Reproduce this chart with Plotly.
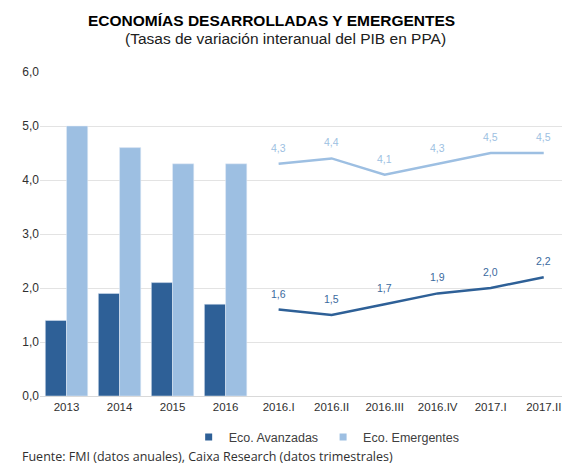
import plotly.graph_objects as go

years = ['2013', '2014', '2015', '2016']
quarters = ['2016.I', '2016.II', '2016.III', '2016.IV', '2017.I', '2017.II']
avanzadas_anual = [1.4, 1.9, 2.1, 1.7]
emergentes_anual = [5.0, 4.6, 4.3, 4.3]
avanzadas_trim = [1.6, 1.5, 1.7, 1.9, 2.0, 2.2]
emergentes_trim = [4.3, 4.4, 4.1, 4.3, 4.5, 4.5]

dark = '#2E6097'
light = '#9DBFE2'
font = 'Liberation Sans, Arial, sans-serif'

fig = go.Figure()
fig.add_trace(go.Bar(x=years, y=avanzadas_anual, marker_color=dark, showlegend=False))
fig.add_trace(go.Bar(x=years, y=emergentes_anual, marker_color=light, showlegend=False))
fig.add_trace(go.Scatter(x=quarters, y=avanzadas_trim, mode='lines', showlegend=False,
                         line=dict(color=dark, width=2.5)))
fig.add_trace(go.Scatter(x=quarters, y=emergentes_trim, mode='lines', showlegend=False,
                         line=dict(color=light, width=2.5)))
# legend entries: small squares like the original
for name, col in [('Eco. Avanzadas', dark), ('Eco. Emergentes', light)]:
    fig.add_trace(go.Scatter(x=[None], y=[None], mode='markers', name=name,
                             marker=dict(symbol='square', size=7, color=col)))

annots = []
for vals, col in [(avanzadas_trim, '#3A6A9E'), (emergentes_trim, '#9DBFE2')]:
    for q, v in zip(quarters, vals):
        annots.append(dict(x=q, y=v, text=f'{v:.1f}'.replace('.', ','), showarrow=False,
                           yshift=16, font=dict(size=10.5, color=col)))

annots += [
    dict(text='<b>ECONOMÍAS DESARROLLADAS Y EMERGENTES</b>', xref='paper', yref='paper',
         x=0.44, y=1, yanchor='middle', yshift=52, showarrow=False,
         font=dict(size=15.5, color='#000000')),
    dict(text='(Tasas de variación interanual del PIB en PPA)', xref='paper', yref='paper',
         x=0.466, y=1, yanchor='middle', yshift=34, showarrow=False,
         font=dict(size=15.5, color='#202020')),
    dict(text='Fuente: FMI (datos anuales), Caixa Research (datos trimestrales)',
         xref='paper', yref='paper', x=-0.038, xanchor='left', y=0, yanchor='middle',
         yshift=-60, showarrow=False, font=dict(size=12.5, color='#303030', family='Open Sans')),
]

# page body adds an 8px margin, so the figure is sized to fit the 570x464 window
fig.update_layout(
    width=562, height=456,
    margin=dict(l=32, r=4, t=64, b=68, autoexpand=False),
    paper_bgcolor='white', plot_bgcolor='white',
    font=dict(family=font, size=12, color='#404040'),
    bargap=0.2, bargroupgap=0,
    barmode='group',
    legend=dict(orientation='h', x=0.545, xanchor='center', y=-0.128, yanchor='middle',
                font=dict(size=12.5, color='#404040'), itemwidth=30, traceorder='normal'),
    annotations=annots,
    separators=',.',
)
fig.update_xaxes(type='category', categoryorder='array', categoryarray=years + quarters,
                 range=[-0.5, 9.42], showgrid=False, showline=True, linecolor='#d9d9d9',
                 ticks='', automargin=False, tickfont=dict(size=11.5, color='#303030'))
fig.update_yaxes(range=[0, 6], dtick=1, tickformat='.1f', showgrid=True, gridcolor='#e3e3e3',
                 zeroline=False, ticks='', automargin=False,
                 tickfont=dict(size=12, color='#303030'))

fig.write_html('out.html')
